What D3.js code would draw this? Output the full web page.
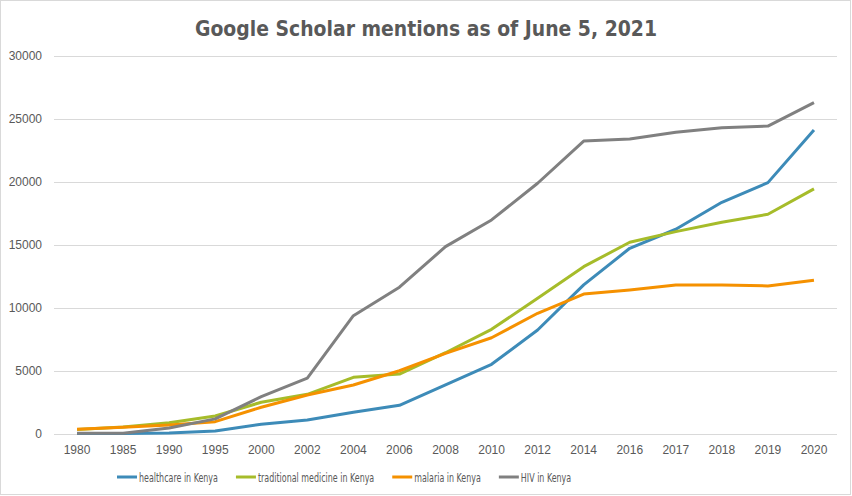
<!DOCTYPE html>
<html>
<head>
<meta charset="utf-8">
<script src="https://cdn.jsdelivr.net/npm/d3@7"></script>
<style>
  body { margin: 0; background: #fff; }
  svg text { font-family: "DejaVu Sans Condensed", "DejaVu Sans", sans-serif; fill: #595959; }
</style>
</head>
<body>
<div id="chart"></div>
<script>
const years = ["1980", "1985", "1990", "1995", "2000", "2002", "2004", "2006", "2008",
    "2010", "2012", "2014", "2016", "2017", "2018", "2019", "2020"];

const healthcare = [30, 30, 80, 240, 770, 1110, 1720, 2280, 3890,
    5530, 8250, 11830, 14740, 16250, 18390, 19950, 24130];
const traditional = [350, 550, 900, 1430, 2520, 3150, 4500, 4760, 6450,
    8310, 10770, 13280, 15220, 16060, 16800, 17440, 19450];
const malaria = [370, 530, 710, 980, 2120, 3100, 3890, 5020, 6400,
    7640, 9580, 11110, 11430, 11830, 11830, 11750, 12200];
const hiv = [50, 60, 480, 1200, 2960, 4440, 9390, 11650, 14870,
    16990, 19900, 23250, 23410, 23940, 24310, 24440, 26300];

const seriesNames = ["healthcare in Kenya", "traditional medicine in Kenya", "malaria in Kenya", "HIV in Kenya"];
const seriesColors = ["#3d8bb8", "#a6bc2a", "#f59100", "#808080"];
const yTicks = [0, 5000, 10000, 15000, 20000, 25000, 30000];

const series = [healthcare, traditional, malaria, hiv].map((values, i) => ({
    name: seriesNames[i],
    color: seriesColors[i],
    values: values
}));

const width = 852, height = 496;
const margin = { left: 54, right: 15, top: 56, bottom: 62 };

const svg = d3.select("#chart").append("svg")
    .attr("width", width)
    .attr("height", height);

svg.append("rect")
    .attr("x", 0.5).attr("y", 0.5)
    .attr("width", width - 2).attr("height", height - 2)
    .attr("fill", "#fff")
    .attr("stroke", "#d9d9d9");

const x = d3.scaleBand()
    .domain(years)
    .range([margin.left, width - margin.right]);

const y = d3.scaleLinear()
    .domain([0, 30000])
    .range([height - margin.bottom, margin.top]);

// gridlines
svg.append("g")
    .selectAll("line")
    .data(yTicks)
    .enter()
    .append("line")
    .attr("x1", margin.left)
    .attr("x2", width - margin.right)
    .attr("y1", d => Math.round(y(d)) + 0.5)
    .attr("y2", d => Math.round(y(d)) + 0.5)
    .attr("stroke", "#d9d9d9");

// y axis labels
const yAxis = svg.append("g")
    .attr("transform", `translate(${margin.left - 12},0)`)
    .call(d3.axisLeft(y).tickValues(yTicks).tickSize(0).tickPadding(0).tickFormat(d3.format("d")));
yAxis.select(".domain").remove();
yAxis.selectAll("text").attr("font-size", 12).attr("fill", "#595959")
    .style("font-family", "inherit");

// x axis labels
const xAxis = svg.append("g")
    .attr("transform", `translate(0,${height - margin.bottom})`)
    .call(d3.axisBottom(x).tickSize(0).tickPadding(11));
xAxis.select(".domain").remove();
xAxis.selectAll("text").attr("font-size", 12).attr("fill", "#595959")
    .style("font-family", "inherit");

const line = d3.line()
    .x((d, i) => x(years[i]) + x.bandwidth() / 2)
    .y(d => y(d));

svg.append("g")
    .selectAll("path")
    .data(series)
    .enter()
    .append("path")
    .attr("fill", "none")
    .attr("stroke", d => d.color)
    .attr("stroke-width", 3)
    .attr("stroke-linejoin", "round")
    .attr("d", d => line(d.values));

// title
svg.append("text")
    .attr("x", width / 2)
    .attr("y", 36)
    .attr("text-anchor", "middle")
    .attr("font-size", 22)
    .attr("font-weight", "bold")
    .attr("textLength", 462)
    .attr("lengthAdjust", "spacingAndGlyphs")
    .text("Google Scholar mentions as of June 5, 2021");

// legend, text squeezed horizontally to match the narrow source font
const squeeze = 0.68;
const legend = svg.append("g").attr("transform", "translate(117,477)");
let lx = 0;
series.forEach(s => {
    legend.append("line")
        .attr("x1", lx).attr("x2", lx + 20)
        .attr("y1", 0).attr("y2", 0)
        .attr("stroke", s.color)
        .attr("stroke-width", 3);
    const t = legend.append("text")
        .attr("transform", `translate(${lx + 22},4.5) scale(${squeeze},1)`)
        .attr("font-size", 13)
        .text(s.name);
    const w = t.node().getComputedTextLength() * squeeze;
    lx += 22 + w + 18;
});
</script>
</body>
</html>
